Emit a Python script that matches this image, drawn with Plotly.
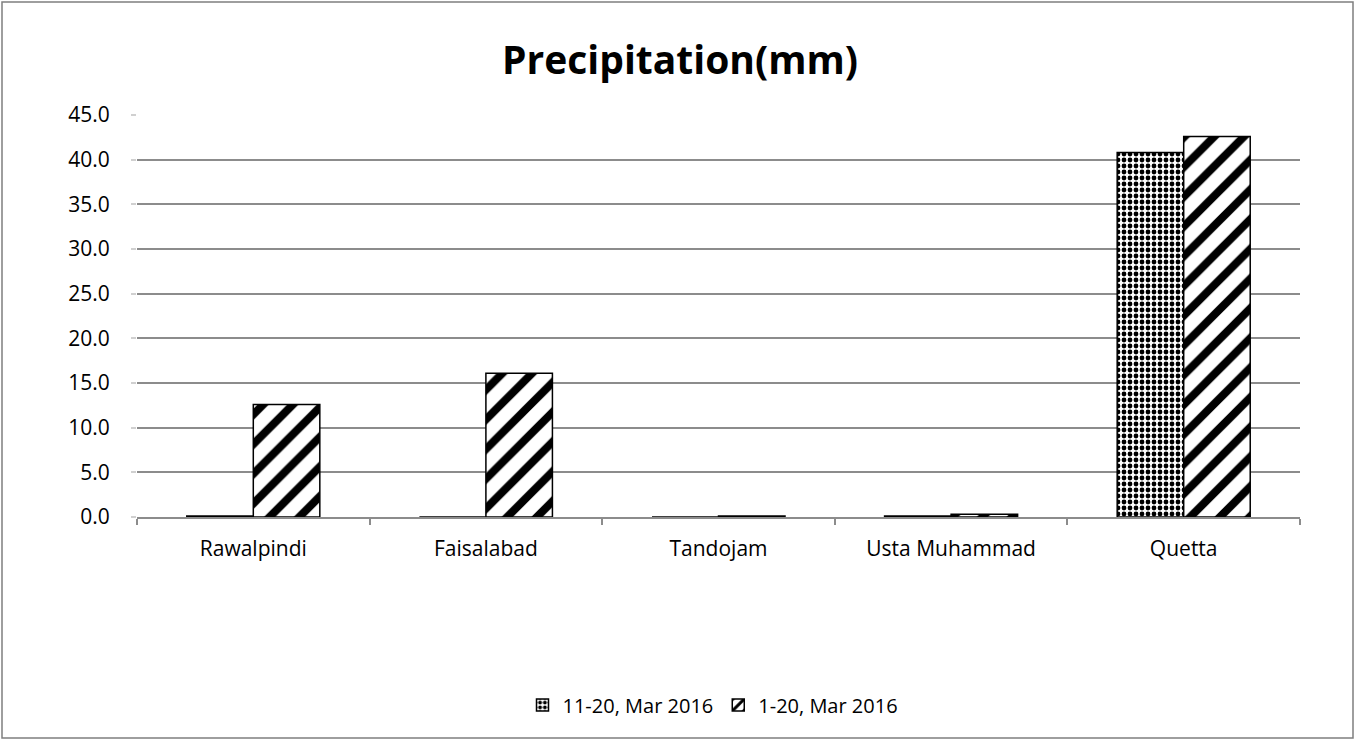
import plotly.graph_objects as go

categories = ["Rawalpindi", "Faisalabad", "Tandojam", "Usta Muhammad", "Quetta"]
series_names = ["11-20, Mar 2016", "1-20, Mar 2016"]
vals_11_20 = [0.1, 0.0, 0.0, 0.1, 40.8]
vals_1_20 = [12.6, 16.1, 0.1, 0.3, 42.6]
y_ticks = [0, 5, 10, 15, 20, 25, 30, 35, 40, 45]

FONT = "Open Sans, Liberation Sans, sans-serif"
L, R, T, B = 137, 1300, 115, 517
W, H = 1355, 740
PW, PH = R - L, B - T

fig = go.Figure()
fig.add_trace(go.Bar(
    x=categories, y=vals_11_20, name=series_names[0],
    marker=dict(color="white", line=dict(color="black", width=1.5),
                pattern=dict(shape=".", fgcolor="black", bgcolor="white",
                             size=6, solidity=0.5, fillmode="replace")),
))
fig.add_trace(go.Bar(
    x=categories, y=vals_1_20, name=series_names[1],
    marker=dict(color="white", line=dict(color="black", width=1.5),
                pattern=dict(shape="/", fgcolor="black", bgcolor="white",
                             size=21, solidity=0.38, fillmode="replace")),
))

fig.update_layout(
    width=W, height=H,
    paper_bgcolor="white", plot_bgcolor="white",
    margin=dict(l=L, r=W - R, t=T, b=H - B),
    barmode="group", bargap=0.428, bargroupgap=0,
    title=dict(text="<b>Precipitation(mm)</b>", x=680 / W, xanchor="center",
               y=1 - 60 / H, yanchor="middle",
               font=dict(family=FONT, size=39, color="black")),
    font=dict(family=FONT, size=21, color="black"),
    legend=dict(orientation="h", x=(713 - L) / PW, xanchor="center", y=(B - 705) / PH, yanchor="middle",
                font=dict(size=20), itemwidth=30, traceorder="normal"),
    showlegend=True,
)
fig.update_yaxes(range=[0, 45], tickvals=y_ticks, tickformat=".1f",
                 showgrid=True, gridcolor="#8c8c8c", gridwidth=1.5,
                 zeroline=False, showline=False, ticks="outside", ticklen=5,
                 tickcolor="#d0d0d0", tickwidth=1.5, ticklabelstandoff=17,
                 tickfont=dict(size=21))
fig.update_xaxes(showline=True, linecolor="#8c8c8c", linewidth=1.5,
                 ticks="outside", tickson="boundaries", ticklen=6,
                 tickcolor="#8c8c8c", tickwidth=1.5, showgrid=False,
                 tickfont=dict(size=21), ticklabelstandoff=12)
fig.add_shape(type="rect", xref="paper", yref="paper",
              x0=(2 - L) / PW, x1=(1353 - L) / PW,
              y0=(B - 738) / PH, y1=(B - 2) / PH,
              line=dict(color="#7f7f7f", width=1.5), layer="below")

fig.write_html("out.html", config={"displayModeBar": False},
               post_script="document.body.style.margin='0';")
